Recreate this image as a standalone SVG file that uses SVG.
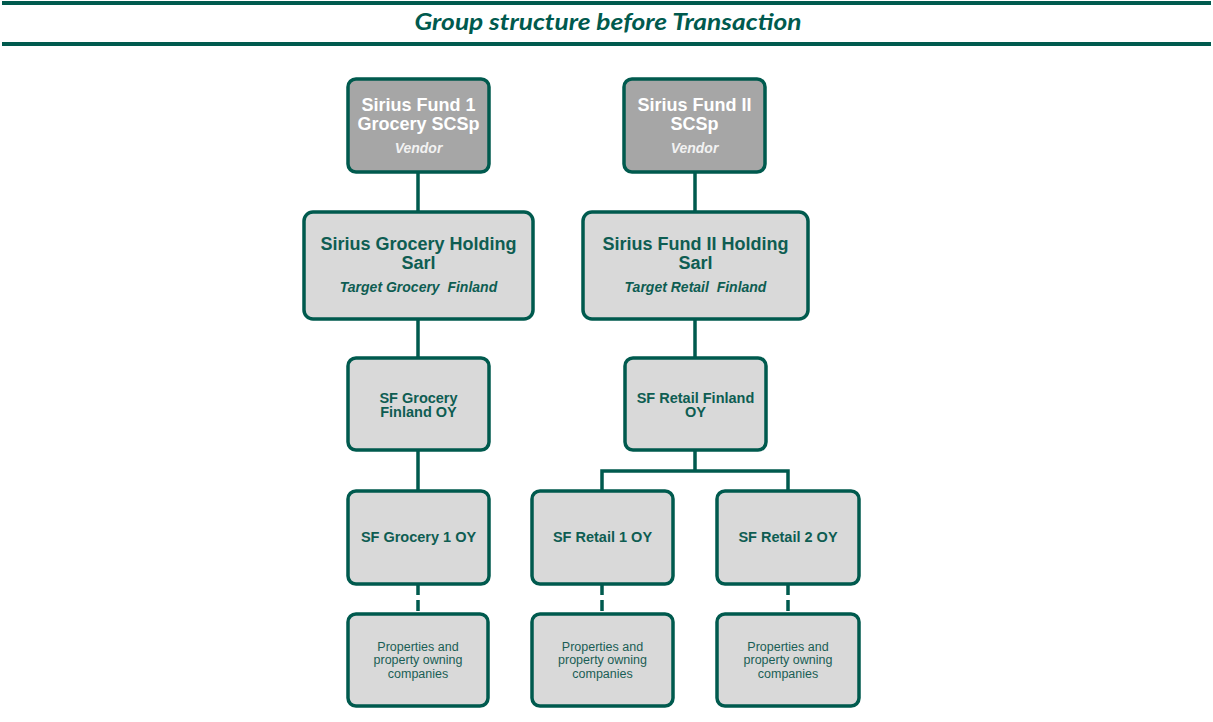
<svg xmlns="http://www.w3.org/2000/svg" width="1213" height="722" viewBox="0 0 1213 722">
<style>
.bar{fill:#005A4E}
.title{font-family:Lato,"Liberation Sans",sans-serif;font-weight:bold;font-style:italic;font-size:22px;fill:#005A4E}
.dark rect{fill:#A6A6A6;stroke:#005A4E;stroke-width:3.5}
.light rect{fill:#D9D9D9;stroke:#005A4E;stroke-width:3.5}
text{font-family:"Liberation Sans",Arial,sans-serif;text-anchor:middle}
.wt{fill:#FFFFFF;font-weight:bold;font-size:18px}
.wv{fill:#F2F2F2;font-weight:bold;font-style:italic;font-size:14px}
.gt{fill:#0E5D52;font-weight:bold;font-size:18px}
.gi{fill:#0E5D52;font-weight:bold;font-style:italic;font-size:14px}
.st{fill:#0E5D52;font-weight:bold;font-size:14.5px}
.pt{fill:#1A5E55;font-size:12.5px}
.conn line,.conn path{stroke:#005A4E;stroke-width:3.5;fill:none}
.conn .dash{stroke-dasharray:11 5}
</style>
<rect class="bar" x="2" y="1" width="1209" height="4"/>
<rect class="bar" x="2" y="42" width="1209" height="4"/>
<text class="title" x="608" y="30" textLength="387" lengthAdjust="spacingAndGlyphs" style="text-anchor:middle">Group structure before Transaction</text>

<g id="connectors" class="conn">
<line x1="418" y1="172" x2="418" y2="213"/>
<line x1="695" y1="172" x2="695" y2="213"/>
<line x1="418" y1="318" x2="418" y2="359"/>
<line x1="418" y1="449" x2="418" y2="492"/>
<line x1="695" y1="318" x2="695" y2="359"/>
<path d="M695 449 V471 M602 492 V471 H788 V492"/>
<line class="dash" x1="418" y1="584" x2="418" y2="614"/>
<line class="dash" x1="602" y1="584" x2="602" y2="614"/>
<line class="dash" x1="788" y1="584" x2="788" y2="614"/>
</g>

<g id="sirius-fund-1" class="dark">
<rect x="348" y="79" width="141" height="93" rx="8"/>
<text class="wt" x="418.5" y="111">Sirius Fund 1</text>
<text class="wt" x="418.5" y="130">Grocery SCSp</text>
<text class="wv" x="418.5" y="153">Vendor</text>
</g>
<g id="sirius-fund-2" class="dark">
<rect x="624" y="79" width="141" height="93" rx="8"/>
<text class="wt" x="694.5" y="111">Sirius Fund II</text>
<text class="wt" x="694.5" y="130">SCSp</text>
<text class="wv" x="694.5" y="153">Vendor</text>
</g>
<g id="grocery-holding" class="light">
<rect x="304" y="212" width="229" height="107" rx="9"/>
<text class="gt" x="418.5" y="250">Sirius Grocery Holding</text>
<text class="gt" x="418.5" y="269">Sarl</text>
<text class="gi" x="418.5" y="292">Target Grocery&#160; Finland</text>
</g>
<g id="fund2-holding" class="light">
<rect x="583" y="212" width="225" height="107" rx="9"/>
<text class="gt" x="695.5" y="250">Sirius Fund II Holding</text>
<text class="gt" x="695.5" y="269">Sarl</text>
<text class="gi" x="695.5" y="292">Target Retail&#160; Finland</text>
</g>
<g id="sf-grocery-finland" class="light">
<rect x="348" y="358" width="141" height="92" rx="8"/>
<text class="st" x="418.5" y="403">SF Grocery</text>
<text class="st" x="418.5" y="417">Finland OY</text>
</g>
<g id="sf-retail-finland" class="light">
<rect x="625" y="358" width="141" height="92" rx="8"/>
<text class="st" x="695.5" y="403">SF Retail Finland</text>
<text class="st" x="695.5" y="417">OY</text>
</g>
<g id="sf-grocery-1" class="light">
<rect x="348" y="491" width="141" height="93" rx="8"/>
<text class="st" x="418.5" y="542">SF Grocery 1 OY</text>
</g>
<g id="sf-retail-1" class="light">
<rect x="532" y="491" width="141" height="93" rx="8"/>
<text class="st" x="602.5" y="542">SF Retail 1 OY</text>
</g>
<g id="sf-retail-2" class="light">
<rect x="717" y="491" width="142" height="93" rx="8"/>
<text class="st" x="788" y="542">SF Retail 2 OY</text>
</g>
<g id="properties-grocery" class="light">
<rect x="348" y="614" width="140" height="92" rx="8"/>
<text class="pt" x="418" y="651">Properties and</text>
<text class="pt" x="418" y="664">property owning</text>
<text class="pt" x="418" y="678">companies</text>
</g>
<g id="properties-retail-1" class="light">
<rect x="532" y="614" width="141" height="92" rx="8"/>
<text class="pt" x="602.5" y="651">Properties and</text>
<text class="pt" x="602.5" y="664">property owning</text>
<text class="pt" x="602.5" y="678">companies</text>
</g>
<g id="properties-retail-2" class="light">
<rect x="717" y="614" width="142" height="92" rx="8"/>
<text class="pt" x="788" y="651">Properties and</text>
<text class="pt" x="788" y="664">property owning</text>
<text class="pt" x="788" y="678">companies</text>
</g>
</svg>
